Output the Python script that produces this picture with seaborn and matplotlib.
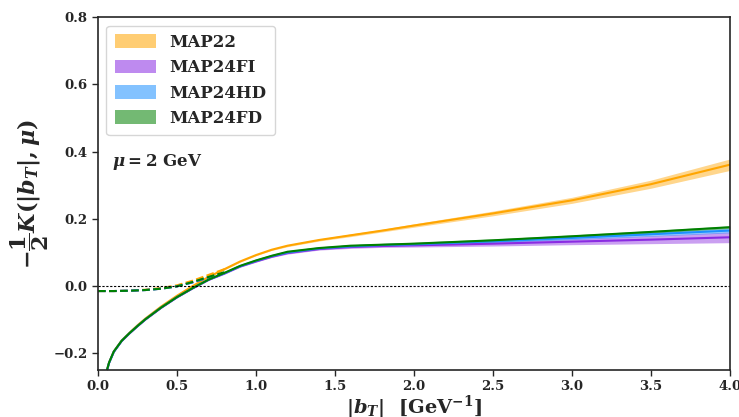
import numpy as np
import pandas as pd
import seaborn as sns
from matplotlib import pyplot as plt
from matplotlib.patches import Patch

# |b_T| grid and -K/2 central values
b_solid = [0.04, 0.05, 0.07, 0.1, 0.15, 0.2, 0.25, 0.3, 0.4, 0.5, 0.6, 0.7, 0.8, 0.9, 1.0, 1.1, 1.2, 1.4, 1.6, 1.8, 2.0, 2.5, 3.0, 3.5, 4.0]
map22 = [-0.280, -0.262, -0.228, -0.195, -0.162, -0.139, -0.117, -0.097, -0.061, -0.029, 0.0, 0.027, 0.050, 0.073, 0.092, 0.108, 0.120, 0.137, 0.151, 0.165, 0.180, 0.216, 0.255, 0.303, 0.361]
map22_err = [0.001, 0.001, 0.001, 0.001, 0.001, 0.001, 0.001, 0.001, 0.001, 0.001, 0.001, 0.001, 0.002, 0.002, 0.002, 0.002, 0.003, 0.003, 0.004, 0.004, 0.005, 0.007, 0.009, 0.012, 0.017]
map24fi = [-0.280, -0.263, -0.229, -0.196, -0.164, -0.141, -0.120, -0.100, -0.065, -0.034, -0.007, 0.018, 0.037, 0.058, 0.073, 0.087, 0.098, 0.110, 0.116, 0.119, 0.121, 0.126, 0.132, 0.138, 0.145]
map24fi_err = [0.001, 0.001, 0.001, 0.001, 0.001, 0.001, 0.001, 0.001, 0.001, 0.001, 0.001, 0.001, 0.002, 0.002, 0.002, 0.002, 0.003, 0.003, 0.004, 0.004, 0.005, 0.007, 0.009, 0.012, 0.016]
map24hd = [-0.280, -0.263, -0.229, -0.196, -0.163, -0.140, -0.119, -0.099, -0.064, -0.033, -0.006, 0.019, 0.038, 0.059, 0.075, 0.089, 0.100, 0.112, 0.118, 0.122, 0.124, 0.133, 0.143, 0.154, 0.165]
map24hd_err = [0.001, 0.001, 0.001, 0.001, 0.001, 0.001, 0.001, 0.001, 0.001, 0.001, 0.001, 0.001, 0.001, 0.001, 0.002, 0.002, 0.002, 0.002, 0.002, 0.003, 0.003, 0.004, 0.005, 0.006, 0.007]
map24fd = [-0.280, -0.262, -0.228, -0.195, -0.163, -0.140, -0.119, -0.099, -0.064, -0.033, -0.006, 0.019, 0.039, 0.060, 0.076, 0.090, 0.102, 0.113, 0.120, 0.123, 0.126, 0.136, 0.148, 0.161, 0.175]
map24fd_err = [0.001, 0.001, 0.001, 0.001, 0.001, 0.001, 0.001, 0.001, 0.001, 0.001, 0.001, 0.001, 0.002, 0.002, 0.002, 0.002, 0.002, 0.003, 0.003, 0.004, 0.004, 0.004, 0.004, 0.004, 0.004]

# dashed low-b_T curves
b_dash = [0.0, 0.1, 0.2, 0.3, 0.4, 0.5, 0.6, 0.7, 0.8]
map22_dash = [-0.015, -0.015, -0.014, -0.011, -0.006, 0.002, 0.016, 0.033, 0.050]
map24fi_dash = [-0.015, -0.015, -0.014, -0.012, -0.008, -0.001, 0.011, 0.025, 0.038]
map24hd_dash = [-0.015, -0.015, -0.014, -0.012, -0.008, -0.001, 0.011, 0.026, 0.039]
map24fd_dash = [-0.015, -0.015, -0.014, -0.012, -0.008, -0.001, 0.012, 0.027, 0.041]

labels = ["MAP22", "MAP24FI", "MAP24HD", "MAP24FD"]
colors = ["#FFA500", "#8A2BE2", "#1E90FF", "#008000"]

sns.set_style("ticks")
plt.rcParams['font.family'] = ['DejaVu Serif']
plt.rcParams['font.weight'] = 'bold'
plt.rcParams['mathtext.fontset'] = 'custom'
plt.rcParams['mathtext.rm'] = 'DejaVu Serif:bold'
plt.rcParams['mathtext.bf'] = 'DejaVu Serif:bold'
plt.rcParams['mathtext.it'] = 'DejaVu Serif:bold:italic'

fig = plt.figure(figsize=(7.39, 4.17), dpi=100)
ax = fig.add_axes([0.1326, 0.1127, 0.855, 0.846])

solid = [(map22, map22_err), (map24fi, map24fi_err), (map24hd, map24hd_err), (map24fd, map24fd_err)]
dash = [map22_dash, map24fi_dash, map24hd_dash, map24fd_dash]

for (vals, err), dvals, lab, col in zip(solid, dash, labels, colors):
    v = np.array(vals)
    e = np.array(err)
    ax.fill_between(b_solid, v - e, v + e, color=col, alpha=0.45, lw=0)
    df = pd.DataFrame({"b": b_solid, "K": vals})
    sns.lineplot(data=df, x="b", y="K", color=col, lw=1.5, ax=ax)
    dd = pd.DataFrame({"b": b_dash, "K": dvals})
    sns.lineplot(data=dd, x="b", y="K", color=col, lw=1.5, ls="--", ax=ax)

ax.axhline(0, color="black", lw=0.8, ls=(0, (2, 1.5)))

ax.set_xlim(0, 4)
ax.set_ylim(-0.25, 0.8)
ax.set_xticks([0, 0.5, 1, 1.5, 2, 2.5, 3, 3.5, 4])
ax.set_yticks([-0.2, 0, 0.2, 0.4, 0.6, 0.8])
ax.yaxis.set_major_formatter(plt.FuncFormatter(lambda v, p: f"{v:.1f}".replace("-", "\u2212")))
ax.xaxis.set_major_formatter(plt.FuncFormatter(lambda v, p: f"{v:.1f}"))
ax.tick_params(labelsize=9.5, length=4, width=1)
for s in ax.spines.values():
    s.set_linewidth(1.2)

ax.set_xlabel(r"$|b_T|\ \ [\mathrm{GeV}^{-1}]$", fontsize=14, labelpad=0)
ax.set_ylabel(r"$-\dfrac{1}{2}K(|b_T|,\mu)$", fontsize=16, labelpad=2)

ax.text(0.09, 0.37, r"$\mu = 2\ \mathrm{GeV}$", fontsize=12, va="center")

handles = [Patch(facecolor=c, alpha=0.55, edgecolor="none") for c in colors]
ax.legend(handles, labels, loc="upper left", fontsize=12, frameon=True,
          handlelength=2.5, handleheight=0.9, borderpad=0.5, labelspacing=0.5)

fig.savefig("out.png", dpi=100)
